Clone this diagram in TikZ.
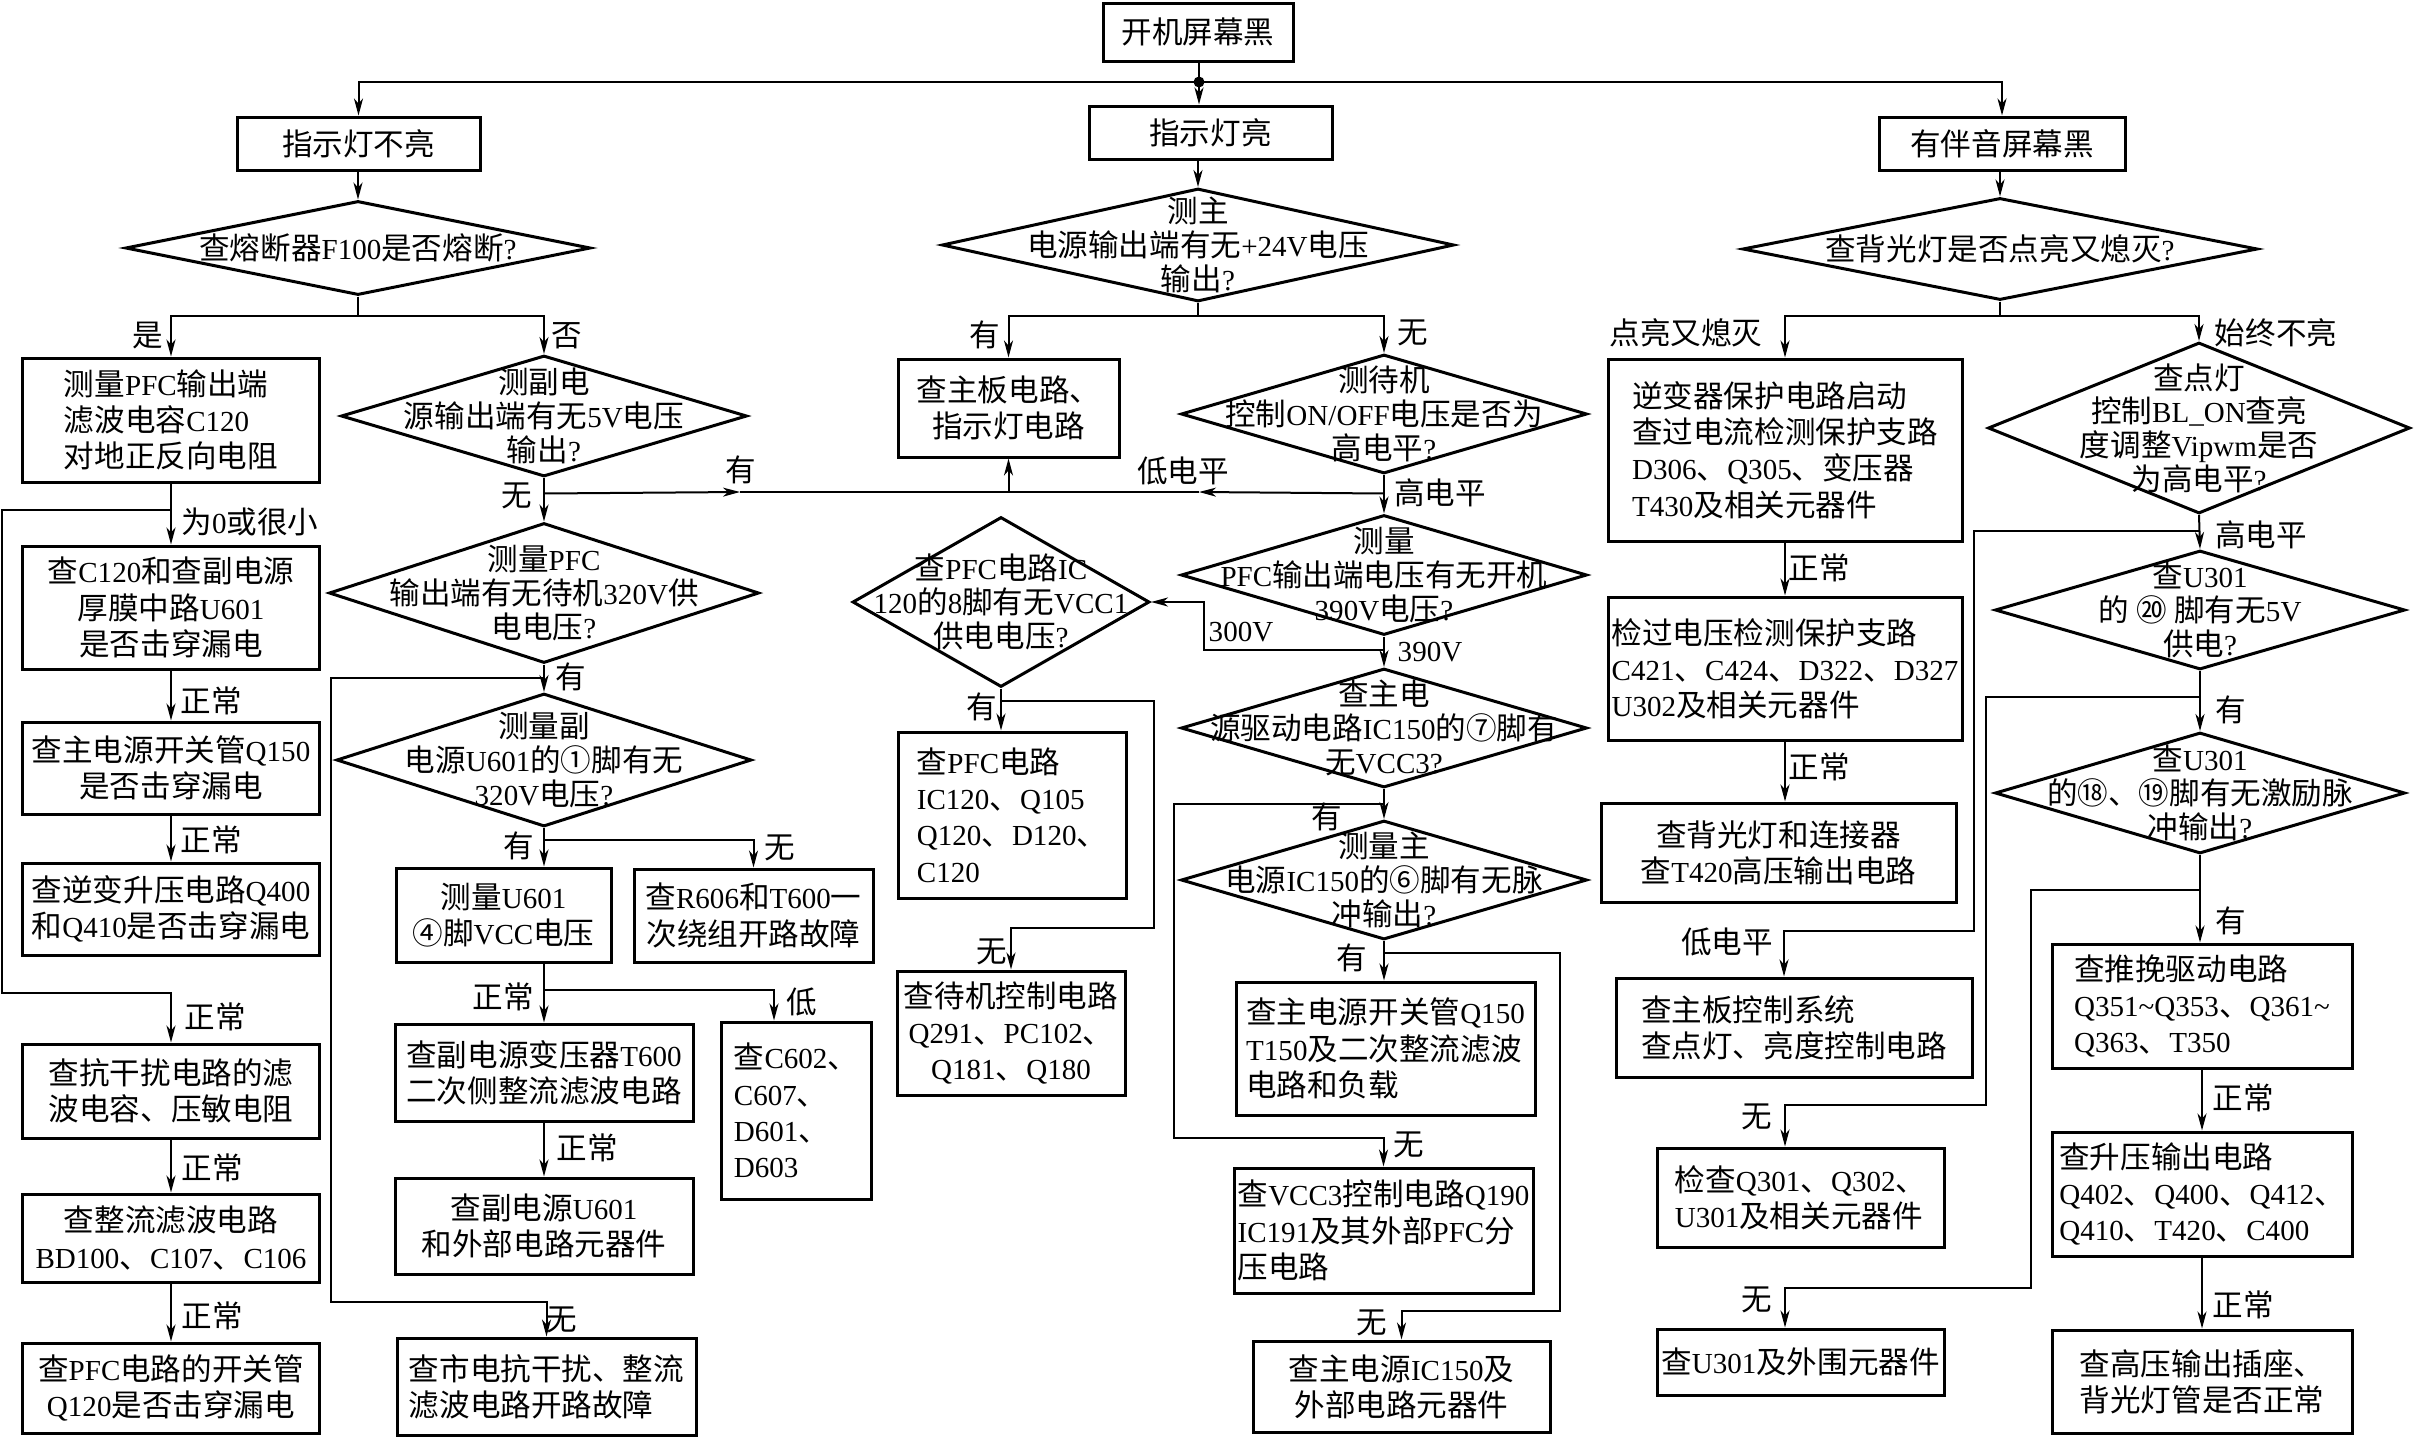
\documentclass[tikz,border=0pt]{standalone}
\usepackage{fontspec}
\setmainfont{Liberation Serif}[Scale=0.95]
\newfontfamily\cjkfont{Noto Sans CJK SC}
\newfontfamily\latfont{Liberation Serif}[Scale=0.95]
\usetikzlibrary{shapes.geometric,arrows.meta}
\XeTeXinterchartokenstate=1
\newXeTeXintercharclass\cjkcls
\newcount\mycc
\def\setcjkrange#1#2{\mycc=#1\relax\loop\XeTeXcharclass\mycc=\cjkcls\relax\ifnum\mycc<#2\relax\advance\mycc by 1\relax\repeat}
\setcjkrange{"2460}{"24FF}
\setcjkrange{"3000}{"303F}
\setcjkrange{"4E00}{"9FFF}
\setcjkrange{"FF00}{"FFEF}
\mycc=33 \loop\XeTeXcharclass\mycc=0\relax\ifnum\mycc<126\relax\advance\mycc by 1\relax\repeat
\XeTeXinterchartoks 0 \cjkcls = {\cjkfont}
\XeTeXinterchartoks 4095 \cjkcls = {\cjkfont}
\XeTeXinterchartoks \cjkcls 0 = {\latfont}
\XeTeXinterchartoks \cjkcls 4095 = {\latfont}
\XeTeXinterchartoks 4095 0 = {\latfont}
\newcommand\mybfont{\fontsize{8.7}{10.3}\selectfont}
\newcommand\mydfont{\fontsize{8.7}{9.6}\selectfont}
\begin{document}
\begin{tikzpicture}[x=0.1mm,y=-0.1mm,
  box/.style={draw,line width=0.3mm,rectangle,inner sep=0pt,align=center,font=\mybfont},
  boxl/.style={box,align=left},
  dia/.style={draw,line width=0.3mm,shape=diamond,inner sep=0pt},
  dtxt/.style={inner sep=0pt,align=center,font=\mydfont},
  lab/.style={inner sep=0pt,font=\mybfont},
  ln/.style={line width=0.2mm},
  arr/.style={ln,-{Stealth[length=1.7mm,width=0.9mm,inset=0.5mm]}}]
\useasboundingbox (0,0) rectangle (2414,1436);

% ---------- top level ----------
\node[box,minimum width=19mm,minimum height=5.8mm] (top) at (1198,32) {开机屏幕黑};
\node[box,minimum width=24.3mm,minimum height=5.3mm] (L0) at (358.5,143.5) {指示灯不亮};
\node[box,minimum width=24.3mm,minimum height=5.3mm] (M0) at (1210.5,132.5) {指示灯亮};
\node[box,minimum width=24.6mm,minimum height=5.3mm] (R0) at (2002,143.5) {有伴音屏幕黑};
\coordinate (j) at (1199,82);

% ---------- diamonds ----------
\node[dia,minimum width=46.5mm,minimum height=9.4mm] (DL1) at (358,248) {};
\node[dtxt] (DL1t) at (DL1) {查熔断器F100是否熔断?};
\node[dia,minimum width=40.6mm,minimum height=12.1mm] (DL2) at (544,416) {};
\node[dtxt] (DL2t) at (DL2) {测副电\\源输出端有无5V电压\\输出?};
\node[dia,minimum width=43mm,minimum height=14mm] (DL3) at (544,593) {};
\node[dtxt] (DL3t) at (DL3) {测量PFC\\输出端有无待机320V供\\电电压?};
\node[dia,minimum width=41.5mm,minimum height=13.3mm] (DL4) at (544,760) {};
\node[dtxt] (DL4t) at (DL4) {测量副\\电源U601的①脚有无\\320V电压?};

\node[dia,minimum width=51.2mm,minimum height=11.3mm] (DM1) at (1198,245) {};
\node[dtxt] (DM1t) at (DM1) {测主\\电源输出端有无+24V电压\\输出?};
\node[dia,minimum width=40.6mm,minimum height=11.9mm] (DM2) at (1384,414) {};
\node[dtxt] (DM2t) at (DM2) {测待机\\控制ON/OFF电压是否为\\高电平?};
\node[dia,minimum width=40.6mm,minimum height=12mm] (DM3) at (1384,575) {};
\node[dtxt] (DM3t) at (DM3) {测量\\PFC输出端电压有无开机\\390V电压?};
\node[dia,minimum width=29.7mm,minimum height=17mm] (DM4) at (1001,602) {};
\node[dtxt] (DM4t) at (DM4) {查PFC电路IC\\120的8脚有无VCC1\\供电电压?};
\node[dia,minimum width=40.6mm,minimum height=11.9mm] (DM5) at (1384,728) {};
\node[dtxt] (DM5t) at (DM5) {查主电\\源驱动电路IC150的⑦脚有\\无VCC3?};
\node[dia,minimum width=40.6mm,minimum height=11.9mm] (DM6) at (1384,880) {};
\node[dtxt] (DM6t) at (DM6) {测量主\\电源IC150的⑥脚有无脉\\冲输出?};

\node[dia,minimum width=51.5mm,minimum height=10.2mm] (DR1) at (2000,249) {};
\node[dtxt] (DR1t) at (DR1) {查背光灯是否点亮又熄灭?};
\node[dia,minimum width=42.2mm,minimum height=17.1mm] (DR2) at (2199,428) {};
\node[dtxt] (DR2t) at (DR2) {查点灯\\控制BL\_ON查亮\\度调整Vipwm是否\\为高电平?};
\node[dia,minimum width=41mm,minimum height=11.9mm] (DR3) at (2200,610) {};
\node[dtxt] (DR3t) at (DR3) {查U301\\的 ⑳ 脚有无5V\\供电?};
\node[dia,minimum width=41mm,minimum height=12.1mm] (DR4) at (2200,793) {};
\node[dtxt] (DR4t) at (DR4) {查U301\\的⑱、⑲脚有无激励脉\\冲输出?};

% ---------- boxes: left column ----------
\node[boxl,minimum width=29.7mm,minimum height=12.4mm] (BL1) at (171,420) {测量PFC输出端\\滤波电容C120\\对地正反向电阻};
\node[box,minimum width=29.7mm,minimum height=12.3mm] (BL2) at (171,607.5) {查C120和查副电源\\厚膜中路U601\\是否击穿漏电};
\node[box,minimum width=29.7mm,minimum height=9.2mm] (BL3) at (171,768) {查主电源开关管Q150\\是否击穿漏电};
\node[box,minimum width=29.7mm,minimum height=9.2mm] (BL4) at (171,909) {查逆变升压电路Q400\\和Q410是否击穿漏电};
\node[box,minimum width=29.7mm,minimum height=9.4mm] (BL5) at (171,1091) {查抗干扰电路的滤\\波电容、压敏电阻};
\node[box,minimum width=29.7mm,minimum height=8.8mm] (BL6) at (171,1238) {查整流滤波电路\\BD100、C107、C106};
\node[box,minimum width=29.7mm,minimum height=9mm] (BL7) at (171,1388) {查PFC电路的开关管\\Q120是否击穿漏电};

% ---------- boxes: second column ----------
\node[box,minimum width=21.5mm,minimum height=9.4mm] (BC1) at (503.5,915) {测量U601\\④脚VCC电压};
\node[box,minimum width=23.9mm,minimum height=9.3mm] (BC2) at (753.5,915.5) {查R606和T600一\\次绕组开路故障};
\node[box,minimum width=29.8mm,minimum height=9.7mm] (BC3) at (544,1072.5) {查副电源变压器T600\\二次侧整流滤波电路};
\node[box,minimum width=29.8mm,minimum height=9.6mm] (BC4) at (544,1226) {查副电源U601\\和外部电路元器件};
\node[boxl,minimum width=15mm,minimum height=17.7mm] (BC5) at (796,1110.5) {查C602、\\C607、\\D601、\\D603};
\node[boxl,minimum width=29.9mm,minimum height=9.7mm] (BC6) at (546.5,1386.5) {查市电抗干扰、整流\\滤波电路开路故障};

% ---------- boxes: middle ----------
\node[box,minimum width=22.1mm,minimum height=9.8mm] (BM1) at (1008.5,408) {查主板电路、\\指示灯电路};
\node[boxl,minimum width=22.8mm,minimum height=16.6mm] (BM2) at (1012,815) {查PFC电路\\IC120、Q105\\Q120、D120、\\C120};
\node[box,minimum width=22.8mm,minimum height=12.4mm] (BM3) at (1011,1033) {查待机控制电路\\Q291、PC102、\\Q181、Q180};
\node[boxl,minimum width=29.9mm,minimum height=13.3mm] (BM4) at (1385.5,1048.5) {查主电源开关管Q150\\T150及二次整流滤波\\电路和负载};
\node[boxl,minimum width=29.9mm,minimum height=12.5mm] (BM5) at (1383.5,1230.5) {查VCC3控制电路Q190\\IC191及其外部PFC分\\压电路};
\node[box,minimum width=29.7mm,minimum height=9.1mm] (BM6) at (1401.5,1386.5) {查主电源IC150及\\外部电路元器件};

% ---------- boxes: right ----------
\node[boxl,minimum width=35.4mm,minimum height=18.2mm] (BR1) at (1785,450) {逆变器保护电路启动\\查过电流检测保护支路\\D306、Q305、变压器\\T430及相关元器件};
\node[boxl,minimum width=35.4mm,minimum height=14.3mm] (BR2) at (1785,668.5) {检过电压检测保护支路\\C421、C424、D322、D327\\U302及相关元器件};
\node[box,minimum width=35.5mm,minimum height=9.9mm] (BR3) at (1778.5,852.5) {查背光灯和连接器\\查T420高压输出电路};
\node[boxl,minimum width=35.6mm,minimum height=9.9mm] (BR4) at (1794,1027.5) {查主板控制系统\\查点灯、亮度控制电路};
\node[boxl,minimum width=28.7mm,minimum height=9.9mm] (BR5) at (1800.5,1197.5) {检查Q301、Q302、\\U301及相关元器件};
\node[box,minimum width=28.7mm,minimum height=6.6mm] (BR6) at (1800.5,1362) {查U301及外围元器件};
\node[boxl,minimum width=30mm,minimum height=12.4mm] (BR7) at (2202,1006) {查推挽驱动电路\\Q351\textasciitilde Q353、Q361\textasciitilde\\Q363、T350};
\node[boxl,minimum width=30mm,minimum height=12.4mm] (BR8) at (2202,1194) {查升压输出电路\\Q402、Q400、Q412、\\Q410、T420、C400};
\node[box,minimum width=30mm,minimum height=10.3mm] (BR9) at (2202,1381.5) {查高压输出插座、\\背光灯管是否正常};

% ---------- connectors: top ----------
\draw[ln] (j |- top.south) -- (j);
\fill (j) circle[radius=0.55mm];
\draw[arr] (j) -| (L0.north);
\draw[arr] (j) -| (R0.north);
\draw[arr] (j) -- (j |- M0.north);
\draw[arr] (DL1.north |- L0.south) -- (DL1.north);
\draw[arr] (DM1.north |- M0.south) -- (DM1.north);
\draw[arr] (DR1.north |- R0.south) -- (DR1.north);

% ---------- left part ----------
\draw[arr] (DL1.south) -- ++(0,19) -| (BL1.north);
\draw[arr] (DL1.south) -- ++(0,19) -| (DL2.north);
\draw[arr] (BL1.south) -- (BL2.north);
\draw[arr] (BL1.south) ++(0,26) -| (2,993) -| (BL5.north);
\draw[arr] (BL2.south) -- (BL3.north);
\draw[arr] (BL3.south) -- (BL4.north);
\draw[arr] (BL5.south) -- (BL6.north);
\draw[arr] (BL6.south) -- (BL7.north);

\coordinate (m1) at (740,492);
\coordinate (m2) at (1199,492);
\draw[arr] (DL2.south) -- (DL3.north);
\draw[arr] (DL2.south) ++(0,15.5) -- (m1);
\draw[arr] (m1) -| (BM1.south);
\draw[arr] (DL3.south) -- (DL4.north);
\draw[arr] (DL3.south) ++(0,13) -| (331,1302) -| (BC6.north);
\draw[arr] (DL4.south) -- (DL4.south |- BC1.north);
\draw[arr] (DL4.south) ++(0,12) -| (BC2.north);
\draw[arr] (BC3.north |- BC1.south) -- (BC3.north);
\draw[arr] (BC3.north |- BC1.south) ++(0,26) -| ([xshift=-2.2mm]BC5.north);
\draw[arr] (BC3.south) -- (BC4.north);

% ---------- middle part ----------
\draw[arr] (DM1.south) -- ++(0,12.5) -| (BM1.north);
\draw[arr] (DM1.south) -- ++(0,12.5) -| (DM2.north);
\draw[arr] (DM2.south) ++(0,18.5) -- (m2);
\draw[ln] (m2) -- (m2 -| BM1.south);
\draw[arr] (DM2.south) -- (DM3.north);
\draw[arr] (DM3.south) -- (DM5.north);
\draw[arr] (DM3.south) ++(0,13) -| (1204,602) -- (DM4.east);
\draw[arr] (DM4.south) -- (DM4.south |- BM2.north);
\draw[arr] (DM4.south) ++(0,12) -| (1154,928) -| (BM3.north);
\draw[arr] (DM5.south) -- (DM6.north);
\draw[arr] (DM5.south) ++(0,14.5) -| (1174,1138) -| (BM5.north);
\draw[arr] (DM6.south) -- (DM6.south |- BM4.north);
\draw[arr] (DM6.south) ++(0,11.5) -| (1560,1311) -| (BM6.north);

% ---------- right part ----------
\draw[arr] (DR1.south) -- ++(0,14) -| (BR1.north);
\draw[arr] (DR1.south) -- ++(0,14) -| (DR2.north);
\draw[arr] (BR1.south) -- (BR2.north);
\draw[arr] (BR2.south) -- (BR2.south |- BR3.north);
\draw[arr] (DR2.south) -- (DR3.north);
\draw[arr] (DR2.south) ++(0,15.5) -| (1974,931) -| ([xshift=-1mm]BR4.north);
\draw[arr] (DR3.south) -- (DR4.north);
\draw[arr] (DR3.south) ++(0,25.5) -| (1986,1105) -| ([xshift=-1.55mm]BR5.north);
\draw[arr] (DR4.south) -- (DR4.south |- BR7.north);
\draw[arr] (DR4.south) ++(0,34.5) -| (2031,1288) -| ([xshift=-1.55mm]BR6.north);
\draw[arr] (BR7.south) -- (BR8.north);
\draw[arr] (BR8.south) -- (BR9.north);

% ---------- labels ----------
\node[lab] (t1) at (148,336) {是};
\node[lab] (t2) at (567,336) {否};
\node[lab] (t3) at (517,496) {无};
\node[lab] (t4) at (741,470) {有};
\node[lab] (t5) at (985,335) {有};
\node[lab] (t6) at (1413,333) {无};
\node[lab] (t7) at (1183,471) {低电平};
\node[lab] (t8) at (1440,493) {高电平};
\node[lab] (t9) at (1241,632) {300V};
\node[lab] (t10) at (1430,652) {390V};
\node[lab] (t11) at (982,707) {有};
\node[lab] (t12) at (992,952) {无};
\node[lab] (t13) at (1327,817) {有};
\node[lab] (t14) at (1352,958) {有};
\node[lab] (t15) at (1409,1145) {无};
\node[lab] (t16) at (1372,1323) {无};
\node[lab] (t17) at (250,522) {为0或很小};
\node[lab] (t18) at (211,701) {正常};
\node[lab] (t19) at (211,840) {正常};
\node[lab] (t20) at (215,1017) {正常};
\node[lab] (t21) at (212,1168) {正常};
\node[lab] (t22) at (212,1316) {正常};
\node[lab] (t23) at (571,677) {有};
\node[lab] (t24) at (519,846) {有};
\node[lab] (t25) at (780,848) {无};
\node[lab] (t26) at (503,997) {正常};
\node[lab] (t27) at (802,1002) {低};
\node[lab] (t28) at (587,1148) {正常};
\node[lab] (t29) at (562,1320) {无};
\node[lab] (t30) at (1686,333) {点亮又熄灭};
\node[lab] (t31) at (2276,333) {始终不亮};
\node[lab] (t32) at (1819,568) {正常};
\node[lab] (t33) at (1819,767) {正常};
\node[lab] (t34) at (1727,942) {低电平};
\node[lab] (t35) at (2261,535) {高电平};
\node[lab] (t36) at (2231,710) {有};
\node[lab] (t37) at (2231,921) {有};
\node[lab] (t38) at (2243,1098) {正常};
\node[lab] (t39) at (2243,1305) {正常};
\node[lab] (t40) at (1757,1117) {无};
\node[lab] (t41) at (1757,1300) {无};
\end{tikzpicture}
\end{document}
